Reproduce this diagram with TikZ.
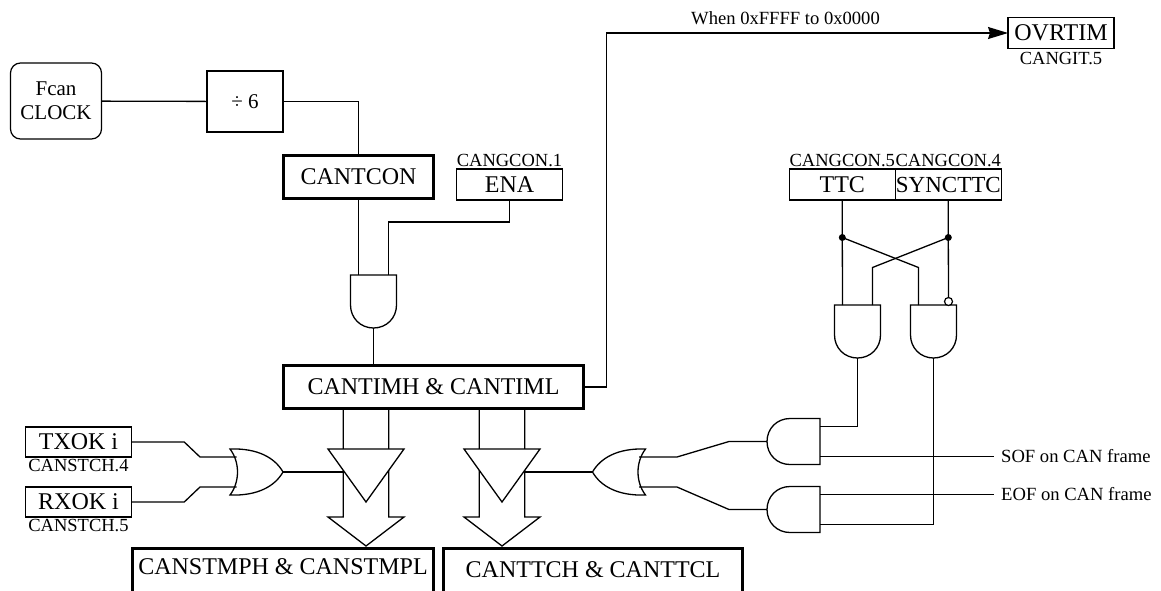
\documentclass[tikz,border=0pt]{standalone}
\usepackage{fontspec}
\setmainfont{Liberation Serif}
\usetikzlibrary{arrows.meta,positioning}
\tikzset{
  wire/.style={line width=1.3pt,draw=black},
  flow/.style={wire,-{Stealth[length=20pt,width=12pt,inset=2pt]}},
  reg/.style={draw=black,line width=1.2pt,fill=white,inner sep=0pt,outer sep=0pt,font=\fontsize{24}{26}\selectfont},
  heavy/.style={reg,line width=3pt},
  tag/.style={inner sep=0pt,font=\fontsize{18.5}{20}\selectfont},
  note/.style={inner sep=0pt,font=\fontsize{18.6}{20}\selectfont},
  dot/.style={circle,fill=black,inner sep=0pt,minimum size=7pt},
  nogate/.style={circle,draw=black,line width=1.2pt,fill=white,inner sep=0pt,minimum size=8pt,outer sep=0pt},
  andgate/.pic={
    \draw[wire,fill=white] (-23,0) -- (23,0) -- (23,30) .. controls (23,43) and (13,53) .. (0,53)
      .. controls (-13,53) and (-23,43) .. (-23,30) -- cycle;
    \coordinate (-a) at (-15,0);
    \coordinate (-b) at (15,0);
    \coordinate (-q) at (0,53);
  },
  andback/.pic={
    \draw[wire,fill=white] (0,-23) -- (-30,-23) .. controls (-43,-23) and (-53,-13) .. (-53,0)
      .. controls (-53,13) and (-43,23) .. (-30,23) -- (0,23) -- cycle;
    \coordinate (-a) at (0,-15);
    \coordinate (-b) at (0,15);
    \coordinate (-q) at (-53,0);
  },
  orgate/.pic={
    \draw[wire,fill=white] (0,-23) .. controls (28,-24) and (45,-14) .. (53,0)
      .. controls (45,14) and (28,24) .. (0,23) .. controls (10,10) and (10,-10) .. cycle;
    \coordinate (-a) at (6.5,-15);
    \coordinate (-b) at (6.5,15);
    \coordinate (-q) at (53,0);
  },
  busgate/.pic={
    \draw[wire,fill=white] (-22.7,0) -- (-22.7,107) -- (-38,107) -- (0,136) -- (38,107) -- (22.7,107) -- (22.7,0);
    \draw[wire,fill=white] (-38,39) -- (38,39) -- (0,92) -- cycle;
    \coordinate (-l) at (-22.7,62);
    \coordinate (-r) at (22.7,62);
  }
}
\begin{document}
\begin{tikzpicture}[x=1pt,y=-1pt]
    \useasboundingbox (0,0) rectangle (1161,590);
    \clip (0,0) rectangle (1161,590);
    % clock path
    \node[reg,rounded corners=10pt,minimum width=91pt,minimum height=76pt,align=center,font=\fontsize{21}{24}\selectfont] (fcan) at (56,101) {Fcan\\CLOCK};
    \node[reg,minimum width=76pt,minimum height=61pt,font=\fontsize{21}{24}\selectfont] (div) at (245,101.5) {÷ 6};
    \node[heavy,minimum width=150pt,minimum height=43pt] (cantcon) at (358.5,177) {CANTCON};
    \node[reg,minimum width=106pt,minimum height=31pt] (ena) at (509.5,184.5) {ENA};
    \node[tag,above=2pt of ena] (enatag) {CANGCON.1};
    \pic (gclk) at (373.5,275) {andgate};
    \node[heavy,minimum width=300pt,minimum height=43pt] (cantim) at (433.5,387) {CANTIMH \& CANTIML};
    % overflow flag
    \node[reg,minimum width=106pt,minimum height=31pt] (ovrtim) at (1061,33) {OVRTIM};
    \node[tag,below=4pt of ovrtim] (ovrtag) {CANGIT.5};
    \node[note] (when) at (785.5,18) {When 0xFFFF to 0x0000};
    % capture inputs
    \node[reg,minimum width=106.5pt,minimum height=30pt] (txok) at (78.5,442) {TXOK i};
    \node[tag,below=2pt of txok] (txtag) {CANSTCH.4};
    \node[reg,minimum width=106.5pt,minimum height=30pt] (rxok) at (78.5,502) {RXOK i};
    \node[tag,below=2pt of rxok] (rxtag) {CANSTCH.5};
    \pic (gorl) at (230,472) {orgate};
    \pic (busl) at (366,410) {busgate};
    \pic (busr) at (502,410) {busgate};
    \pic[xscale=-1] (gorr) at (645.5,472) {orgate};
    \node[heavy,anchor=north,minimum width=301pt,text height=26pt,text depth=26pt] (stmp) at (283,548.5) {CANSTMPH \& CANSTMPL};
    \node[heavy,anchor=north,minimum width=299pt,text height=29pt,text depth=23pt] (ttch) at (593,548.5) {CANTTCH \& CANTTCL};
    % time trigger control
    \node[reg,minimum width=106pt,minimum height=31pt] (ttc) at (842.3,184.5) {TTC};
    \node[reg,right=0pt of ttc,minimum width=106pt,minimum height=31pt,font=\fontsize{23}{26}\selectfont] (sync) {SYNCTTC};
    \node[tag,above=2pt of ttc] (ttctag) {CANGCON.5};
    \node[tag,above=2pt of sync] (synctag) {CANGCON.4};
    \node[dot] (jttc) at (842.3,237.5) {};
    \node[dot] (jsync) at (948.3,237.5) {};
    \pic (gset) at (857.5,305) {andgate};
    \pic (grst) at (933.5,305) {andgate};
    \node[nogate] (inv) at (948.5,301.5) {};
    \pic (gsof) at (820,441.5) {andback};
    \pic (geof) at (820,509.5) {andback};
    \node[note,anchor=west,inner xsep=7pt] (sof) at (994,456.5) {SOF on CAN frame};
    \node[note,anchor=west,inner xsep=7pt] (eof) at (994,494.5) {EOF on CAN frame};
    % connectors
    \draw[wire] (fcan) -- (div);
    \draw[wire] (div) -| (cantcon);
    \draw[wire] (cantcon) -- (gclk-a);
    \draw[wire] (ena) -- ++(0,37.5) -| (gclk-b);
    \draw[wire] (gclk-q) -- (gclk-q |- cantim.north);
    \draw[flow] (cantim.east) -- ++(23,0) |- (ovrtim.west);
    \draw[wire] (txok.east) -- ++(52.5,0) -- (200,457) -- (gorl-a);
    \draw[wire] (rxok.east) -- ++(52.5,0) -- (200,487) -- (gorl-b);
    \draw[wire] (gorl-q) -- (busl-l);
    \draw[wire] (gorr-q) -- (busr-r);
    \draw[wire] (gorr-a) -- (677,457) -- (729,441.5) -- (gsof-q);
    \draw[wire] (gorr-b) -- (677,487) -- (729,509.5) -- (geof-q);
    \draw[wire] (ttc) -- (jttc.center) -- (gset-a);
    \draw[wire] (sync) -- (jsync.center) -- (inv);
    \draw[wire] (jttc.center) -- ++(76.2,30) -- (grst-a);
    \draw[wire] (jsync.center) -- ++(-75.8,30) -- (gset-b);
    \draw[wire] (gset-q) |- (gsof-a);
    \draw[wire] (grst-q) |- (geof-b);
    \draw[wire] (gsof-b) -- (sof.west);
    \draw[wire] (geof-a) -- (eof.west);
  \end{tikzpicture}
\end{document}
